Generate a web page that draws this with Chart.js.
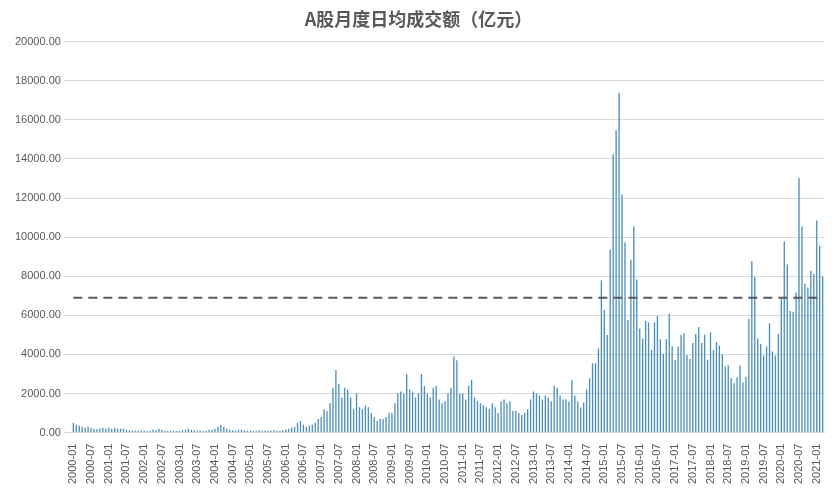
<!DOCTYPE html>
<html><head><meta charset="utf-8">
<script src="https://cdn.jsdelivr.net/npm/chart.js@4/dist/chart.umd.min.js"></script>
<style>body{margin:0;background:#fff}#w{width:833px;height:489px}</style></head>
<body><div id="w"><canvas id="c"></canvas></div>
<script>
const years = [];
for (let y = 2000; y <= 2021; y++) years.push(y);
const v2000 = [500,400,350,300,250,300,250,200,180,200,250,200];
const v2001 = [250,200,250,200,200,200,150,120,100,100,100,100];
const v2002 = [100,80,100,150,120,200,150,100,80,100,100,80];
const v2003 = [100,120,150,200,150,120,100,100,80,100,150,150];
const v2004 = [200,300,400,300,200,150,120,100,150,150,120,100];
const v2005 = [100,80,100,120,100,100,80,100,120,100,80,120];
const v2006 = [150,200,250,300,500,600,400,300,350,400,500,700];
const v2007 = [800,1200,1100,1500,2300,3200,2500,1800,2300,2200,1800,1200];
const v2008 = [2000,1300,1200,1400,1300,1000,800,600,700,700,800,1000];
const v2009 = [1000,1500,2000,2100,2000,3000,2200,2100,1800,2000,3000,2400];
const v2010 = [2000,1800,2300,2400,1700,1500,1600,2000,2300,3900,3700,2000];
const v2011 = [2000,1700,2400,2700,1800,1600,1500,1400,1300,1200,1500,1300];
const v2012 = [1000,1600,1700,1500,1600,1100,1100,1000,900,1000,1200,1700];
const v2013 = [2100,2000,1900,1700,1900,1800,1600,2400,2300,1900,1700,1710];
const v2014 = [1590,2690,1900,1590,1280,1540,2210,2780,3550,3550,4320,7800];
const v2015 = [6290,4990,9370,14240,15460,17380,12180,9720,5760,8840,10540,7830];
const v2016 = [5310,4800,5710,5630,4220,5630,5960,4780,4030,4780,6080,4420];
const v2017 = [3700,4420,4990,5080,3970,3770,4580,5050,5400,4580,5000,3720];
const v2018 = [5140,4230,4630,4460,3990,3380,3430,2790,2520,2830,3430,2570];
const v2019 = [2860,5830,8780,7970,4830,4540,3940,4400,5600,4150,3940,5050];
const v2020 = [6850,9770,8600,6220,6180,7150,13020,10540,7620,7420,8280,8110];
const v2021 = [10850,9560,7970];
const avgLine = 6900;
const values = [].concat(v2000,v2001,v2002,v2003,v2004,v2005,v2006,v2007,v2008,v2009,v2010,v2011,v2012,v2013,v2014,v2015,v2016,v2017,v2018,v2019,v2020,v2021);
const labels = values.map((_, i) => (2000 + Math.floor(i / 12)) + '-' + String(i % 12 + 1).padStart(2, '0'));
new Chart(document.getElementById('c'), {
  data: { labels, datasets: [
    { type: 'bar', data: values, backgroundColor: '#4a8fc4', barPercentage: 0.45, categoryPercentage: 1, order: 2 },
    { type: 'line', data: values.map(() => avgLine), borderColor: '#595959', borderWidth: 2, borderDash: [9, 6], pointRadius: 0, order: 1 }
  ]},
  options: {
    responsive: true, maintainAspectRatio: false, animation: false,
    layout: { padding: { left: 12, right: 8, top: 4, bottom: 2 } },
    plugins: { legend: { display: false }, tooltip: { enabled: false },
      title: { display: true, text: 'A股月度日均成交额（亿元）', color: '#595959', font: { size: 18, weight: 'bold', family: 'Noto Sans CJK SC' }, padding: { top: 4, bottom: 12 } } },
    scales: {
      x: { grid: { display: false }, border: { color: '#d9d9d9' },
        ticks: { autoSkip: false, maxRotation: 90, minRotation: 90, color: '#595959', font: { size: 11, family: 'Liberation Sans' },
          callback: function (v, i) { return i % 6 === 0 ? labels[i] : null; } } },
      y: { min: 0, max: 20000, grid: { color: '#d9d9d9' }, border: { display: false },
        ticks: { stepSize: 2000, color: '#595959', font: { size: 11, family: 'Liberation Sans' }, callback: v => v.toFixed(2) } }
    }
  }
});
</script></body></html>
